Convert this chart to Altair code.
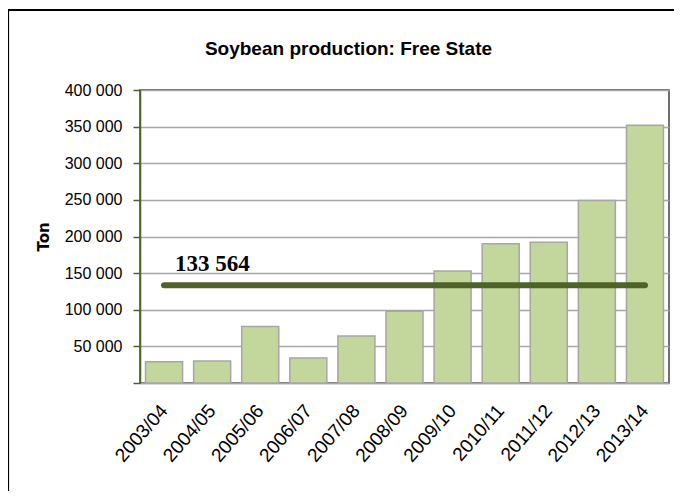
import altair as alt
import pandas as pd

# ---- data ----
seasons = ["2003/04", "2004/05", "2005/06", "2006/07", "2007/08", "2008/09",
           "2009/10", "2010/11", "2011/12", "2012/13", "2013/14"]
production = [29000, 30000, 77000, 34000, 64000, 98000,
              153000, 190000, 192000, 249000, 352000]
average_value = 133564
average_label = "133 564"
y_ticks = [0, 50000, 100000, 150000, 200000, 250000, 300000, 350000, 400000]
title_text = "Soybean production: Free State"
y_title = "Ton"

df = pd.DataFrame({"season": seasons, "production": production})
avg_df = pd.DataFrame({"season": [seasons[0], seasons[-1]],
                       "avg": [average_value, average_value]})
lab_df = pd.DataFrame({"season": [seasons[0]], "avg": [average_value],
                       "label": [average_label]})

SANS = "Liberation Sans"

x_scale = alt.Scale(paddingInner=0.23, paddingOuter=0.115)
y_scale = alt.Scale(domain=[0, 400000], nice=False)

x_axis = alt.Axis(labelAngle=-49, labelAlign="right", labelBaseline="middle",
                  labelFont=SANS, labelFontSize=19, labelColor="#000000",
                  labelPadding=24, ticks=False, domainColor="#a6a6a6",
                  domainWidth=1.5, grid=False, labelOverlap=False)
y_axis = alt.Axis(values=y_ticks, tickCount=20, labelOverlap=False,
                  labelExpr="datum.value == 0 ? '' : replace(format(datum.value, ','), ',', ' ')",
                  labelFont=SANS, labelFontSize=16, labelColor="#000000",
                  labelPadding=11, tickColor="#4f6228", tickSize=7, tickWidth=1.5,
                  domainColor="#4f6228", domainWidth=1.5,
                  gridColor="#a6a6a6", gridWidth=1.5,
                  titleFont="DejaVu Sans", titleFontSize=15, titleFontWeight="bold",
                  titleColor="#000000", titlePadding=13)

x_enc = alt.X("season:N", sort=seasons, title=None, scale=x_scale, axis=x_axis)

bars = alt.Chart(df).mark_bar(color="#c3d69b", stroke="#a6a6a6", strokeWidth=1.5).encode(
    x=x_enc,
    y=alt.Y("production:Q", scale=y_scale, title=y_title, axis=y_axis),
)

avg_line = alt.Chart(avg_df).mark_line(color="#4f6228", strokeWidth=6, strokeCap="round").encode(
    x=x_enc,
    y=alt.Y("avg:Q", scale=y_scale, title=y_title, axis=y_axis),
)

avg_text = alt.Chart(lab_df).mark_text(
    align="left", baseline="alphabetic", dx=11, dy=-14,
    font="Liberation Serif", fontSize=23, fontWeight="bold", color="#000000",
).encode(
    x=x_enc,
    y=alt.Y("avg:Q", scale=y_scale, title=y_title, axis=y_axis),
    text="label:N",
)

# outer chart frame (top and left edges; the others fall outside the picture)
frame_top = alt.Chart(alt.Data(values=[{}])).mark_rule(color="#000000", strokeWidth=2.2).encode(
    x=alt.value(-132), x2=alt.value(700), y=alt.value(-80)
)
frame_left = alt.Chart(alt.Data(values=[{}])).mark_rule(color="#000000", strokeWidth=2.2).encode(
    x=alt.value(-132), y=alt.value(-81), y2=alt.value(500)
)

chart = alt.layer(bars, avg_line, avg_text, frame_top, frame_left).properties(
    width=529, height=293,
    title=alt.Title(title_text, font=SANS, fontSize=19, fontWeight="bold",
                    color="#000000", anchor="middle", frame="group", dx=-56, offset=0, dy=51),
    autosize=alt.AutoSizeParams(type="none"),
    padding={"left": 132, "top": 82, "right": 5, "bottom": 108},
    background="#ffffff",
).configure_view(stroke="#404040", strokeWidth=1.5)

chart.save("out.html", embed_options={"renderer": "svg", "actions": False})
